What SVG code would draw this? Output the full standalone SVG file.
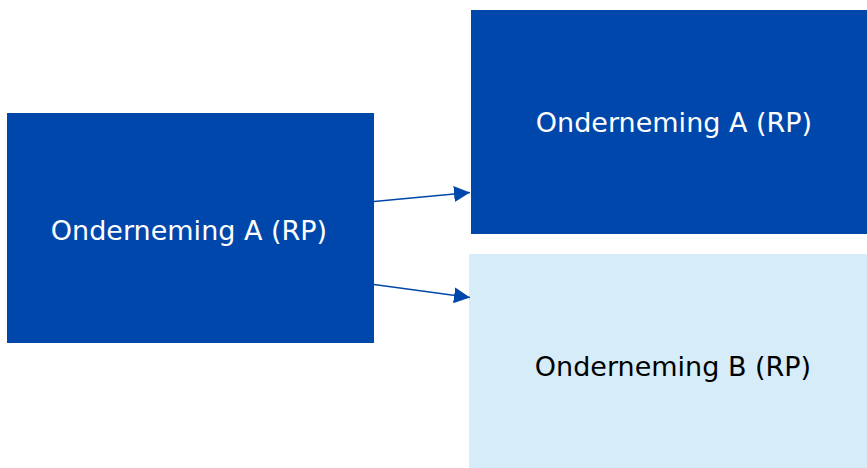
<svg xmlns="http://www.w3.org/2000/svg" width="867" height="468" viewBox="0 0 867 468">
<style>
.dark{fill:#0047AB}
.light{fill:#D6ECF9}
.t{font-family:"DejaVu Sans",Verdana,sans-serif;font-size:27px;text-anchor:middle}
.tw{fill:#FFFFFF}
.tb{fill:#000000}
.conn{stroke:#0047AB;stroke-width:1.3;fill:none}
</style>
<defs>
<marker id="arr" viewBox="0 0 16 16" refX="16" refY="8" markerWidth="16" markerHeight="16" markerUnits="userSpaceOnUse" orient="auto">
<path d="M0,0 L16,8 L0,16 Z" fill="#0047AB"/>
</marker>
</defs>
<rect width="867" height="468" fill="#FFFFFF"/>
<g id="node-a-left">
<rect class="dark" x="7" y="113" width="367" height="230"/>
<text class="t tw" x="189" y="239.5">Onderneming A (RP)</text>
</g>
<g id="node-a-right">
<rect class="dark" x="471" y="10" width="396" height="224"/>
<text class="t tw" x="674" y="132">Onderneming A (RP)</text>
</g>
<g id="node-b-right">
<rect class="light" x="469" y="254" width="398" height="214"/>
<text class="t tb" x="673" y="375.5">Onderneming B (RP)</text>
</g>
<g id="connectors">
<line class="conn" x1="374" y1="201.5" x2="470" y2="192.5" marker-end="url(#arr)"/>
<line class="conn" x1="374" y1="284.5" x2="470" y2="297.5" marker-end="url(#arr)"/>
</g>
</svg>
